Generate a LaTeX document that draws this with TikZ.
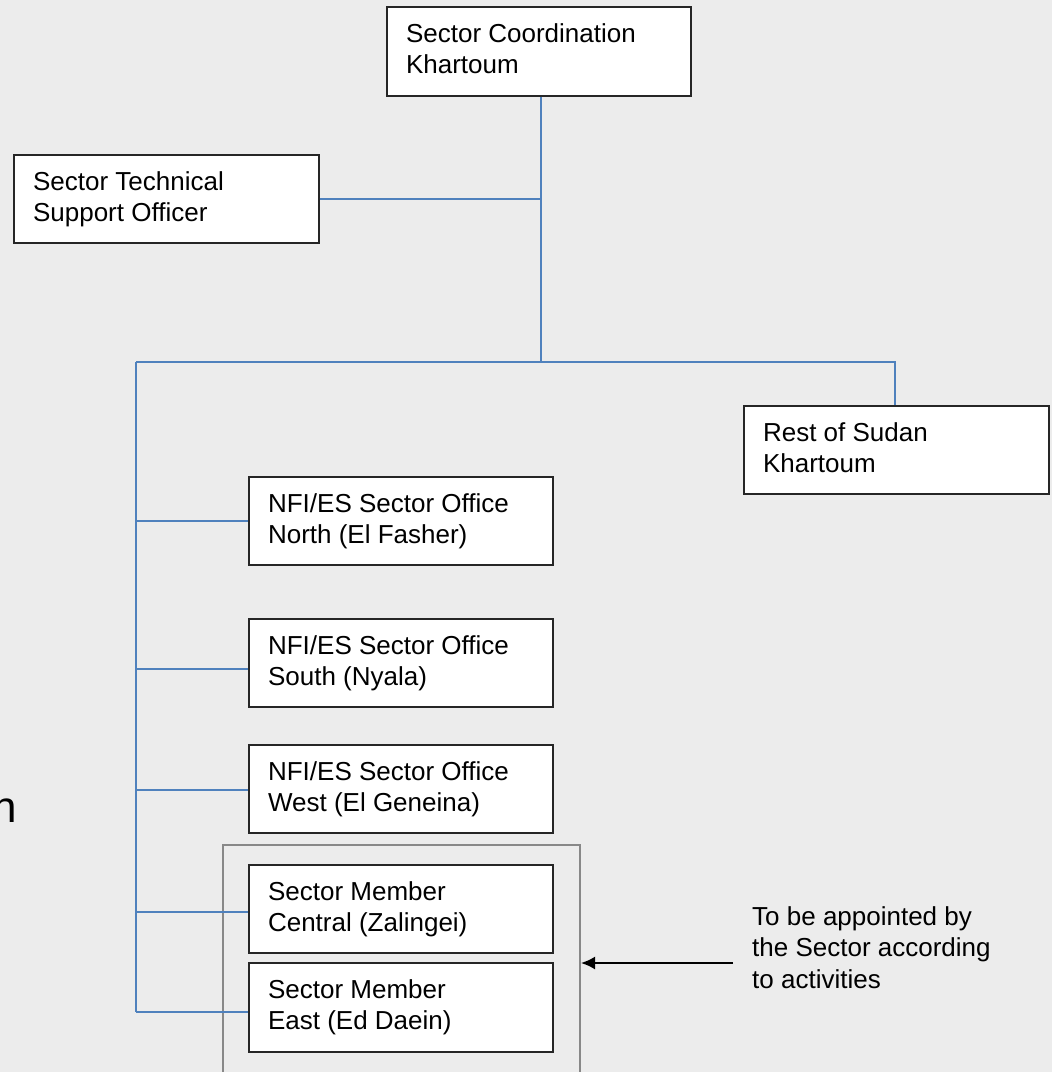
\documentclass[tikz,border=0pt]{standalone}
\usepackage{fontspec}
\setmainfont{Liberation Sans}
\usetikzlibrary{calc,arrows.meta}
\definecolor{bgc}{HTML}{ECECEC}
\definecolor{linkblue}{HTML}{4F81BD}
\definecolor{grpgray}{HTML}{888888}
\newcommand\twolines[3]{%
  \node[txt] (#1-1) at ($(#1.north west)+(19.5,36.5)$) {#2};
  \node[txt] (#1-2) at ($(#1.north west)+(19.5,67.5)$) {#3};}
\begin{document}
\begin{tikzpicture}[x=1pt,y=-1pt,
  box/.style={draw=black!85,line width=1.3pt,fill=white,inner sep=0pt,minimum width=305pt,minimum height=88pt},
  txt/.style={anchor=base west,inner sep=0pt,font=\fontsize{26}{31}\selectfont},
  conn/.style={draw=linkblue,line width=2pt},
  grp/.style={draw=grpgray,line width=2pt,inner sep=0pt}]
\useasboundingbox (0,0) rectangle (1052,1072);
\clip (0,0) rectangle (1052,1072);
\fill[bgc] (0,0) rectangle (1052,1072);
% group frame
\node[grp,minimum width=357pt,minimum height=236pt] (group) at (401.5,963) {};
% boxes
\node[box,minimum width=304pt,minimum height=89pt] (top) at (539,51.5) {};
\node[box] (tech) at (166.5,199) {};
\node[box] (rest) at (896.5,450) {};
\node[box,minimum width=304pt] (north) at (401,521) {};
\node[box,minimum width=304pt] (south) at (401,663) {};
\node[box,minimum width=304pt] (west) at (401,789) {};
\node[box,minimum width=304pt] (central) at (401,909) {};
\node[box,minimum width=304pt,minimum height=89pt] (east) at (401,1007.5) {};
\twolines{top}{Sector Coordination}{Khartoum}
\twolines{tech}{Sector Technical}{Support Officer}
\twolines{rest}{Rest of Sudan}{Khartoum}
\twolines{north}{NFI/ES Sector Office}{North (El Fasher)}
\twolines{south}{NFI/ES Sector Office}{South (Nyala)}
\twolines{west}{NFI/ES Sector Office}{West (El Geneina)}
\twolines{central}{Sector Member}{Central (Zalingei)}
\twolines{east}{Sector Member}{East (Ed Daein)}
% junctions
\coordinate (jc) at (541,362);
\coordinate (jl) at (136,362);
\coordinate (jr) at (895,362);
\coordinate (bs) at (136,669);
\coordinate (bc) at (136,912);
\coordinate (be) at (136,1012);
% connectors
\draw[conn] (top.south -| jc) -- (jc);
\draw[conn] (tech.east) -- (tech.east -| jc);
\draw[conn] (jl) -- (jr) -- (jr |- rest.north);
\draw[conn] (jl) -- (be);
\draw[conn] (jl |- north.west) -- (north.west);
\draw[conn] (bs) -- (bs -| south.west);
\draw[conn] (jl |- 0,790) -- (west.west |- 0,790);
\draw[conn] (bc) -- (bc -| central.west);
\draw[conn] (be) -- (be -| east.west);
% note and arrow
\coordinate (arrowstart) at (733,963);
\draw[line width=2pt,-{Latex[length=14pt,width=13pt]}] (arrowstart) -- (arrowstart -| group.east);
\node[txt] (note1) at (752,925) {To be appointed by};
\node[txt] (note2) at (752,956) {the Sector according};
\node[txt] (note3) at (752,988) {to activities};
% cut-off letter at left
\node[anchor=base east,inner sep=0pt,font=\fontsize{44}{50}\selectfont] (cut) at (17,822) {n};
\end{tikzpicture}
\end{document}
